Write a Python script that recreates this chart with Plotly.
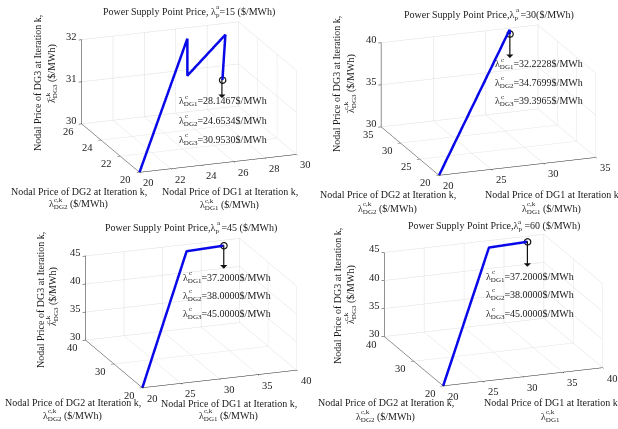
import plotly.graph_objects as go

W, H = 618, 429
FONT = "Liberation Serif"

# panel data: iteration paths
p1_dg1 = [20, 26.0, 26.0, 28.4, 28.1467]
p1_dg2 = [20, 24.8, 24.8, 24.76, 24.6534]
p1_dg3 = [30, 32.0, 31.12, 32.0, 30.953]
p2_dg1 = [20, 32.2, 32.2228]
p2_dg2 = [20, 34.77, 34.7699]
p2_dg3 = [30, 39.9, 39.3965]
p3_dg1 = [20, 32.2, 37.2]
p3_dg2 = [20, 37.5, 38.0]
p3_dg3 = [30, 45.0, 45.0]
p4_dg1 = [20, 32.2, 37.2]
p4_dg2 = [20, 37.5, 38.0]
p4_dg3 = [30, 45.0, 45.0]

p1_xticks = [20, 22, 24, 26, 28, 30]
p1_yticks = [20, 22, 24, 26]
p1_zticks = [30, 31, 32]
p2_xticks = [20, 25, 30, 35]
p2_yticks = [20, 25, 30, 35]
p2_zticks = [30, 35, 40]
p3_xticks = [20, 25, 30, 35, 40]
p3_yticks = [20, 30, 40]
p3_zticks = [30, 35, 40, 45]

p1_final = ["28.1467", "24.6534", "30.9530"]
p2_final = ["32.2228", "34.7699", "39.3965"]
p3_final = ["37.2000", "38.0000", "45.0000"]
p4_final = ["37.2000", "38.0000", "45.0000"]

panels = [
    dict(x=p1_dg1, y=p1_dg2, z=p1_dg3, xt=p1_xticks, yt=p1_yticks, zt=p1_zticks, final=p1_final,
         center=(188.5, 96.5), arrow=20, scale=1.76,
         title=("Power Supply Point Price, λ", "=15 ($/MWh)", 103), title_y=12, sup_dx=113,
         xt1=(162, 192), xt2=(200, 206), yt1=(11, 191), yt2=(49, 205),
         zt1=(37, 83), zt2=(53, 74), block=(179, [102, 121, 140])),
    dict(x=p2_dg1, y=p2_dg2, z=p2_dg3, xt=p2_xticks, yt=p2_yticks, zt=p2_zticks, final=p2_final,
         center=(488.5, 99.5), arrow=26, scale=1.76,
         title=("Power Supply Point Price,λ", " =30($/MWh)", 404), title_y=15, sup_dx=112,
         xt1=(485, 194), xt2=(522, 209), yt1=(320, 194), yt2=(358, 209),
         zt1=(336, 84), zt2=(351, 84), block=(495, [65, 83, 102])),
    dict(x=p3_dg1, y=p3_dg2, z=p3_dg3, xt=p3_xticks, yt=p3_yticks, zt=p3_zticks, final=p3_final,
         center=(191, 312.5), arrow=25, scale=1.73,
         title=("Power Supply Point Price,λ", " =45 ($/MWh)", 105), title_y=228, sup_dx=112,
         xt1=(161, 403), xt2=(199, 416), yt1=(5, 402), yt2=(43, 416),
         zt1=(40, 300), zt2=(53, 297), block=(183, [278, 296, 314])),
    dict(x=p4_dg1, y=p4_dg2, z=p4_dg3, xt=p3_xticks, yt=p3_yticks, zt=p3_zticks, final=p4_final,
         center=(493.5, 309.5), arrow=27, scale=1.79,
         title=("Power Supply Point Price,λ", " =60 ($/MWh)", 408), title_y=227, sup_dx=110,
         xt1=(484, 402), xt2=(541, 417), yt1=(318, 402), yt2=(356, 417),
         zt1=(337, 296), zt2=(351, 295), block=(486, [277, 295, 314])),
]

fig = go.Figure()
annots = []
DH = 190
EYE = 3.0
ZSCALE = 0.53 * 1.76


def note(text, px, py, size=10, xanchor="left", angle=0):
    if xanchor == "left":
        px -= 2
    annots.append(dict(text=text, x=px / W, y=1 - py / H, xref="paper", yref="paper", showarrow=False,
                       xanchor=xanchor, yanchor="middle", textangle=angle,
                       font=dict(family=FONT, size=size, color="#1a1a1a")))


def tick_label(text, x, y, z, xshift, yshift):
    return dict(x=x, y=y, z=z, text=str(text), showarrow=False, xanchor="center", yanchor="middle",
                xshift=xshift, yshift=yshift, font=dict(family=FONT, size=10.5, color="#222222"))


def ax(t, pad=0.0):
    return dict(range=[t[0], t[-1] + pad], tickvals=t, title=dict(text=""), showticklabels=False,
                showbackground=False, gridcolor="#dedede", gridwidth=1, zeroline=False,
                showline=True, linecolor="#222222", linewidth=1, ticks="inside", ticklen=3,
                tickcolor="#222222", showspikes=False)


for i, p in enumerate(panels):
    name = "scene" if i == 0 else f"scene{i + 1}"
    fig.add_trace(go.Scatter3d(x=p["x"], y=p["y"], z=p["z"], mode="lines", scene=name,
                               line=dict(color="#0808e8", width=5), hoverinfo="skip", showlegend=False))
    fig.add_trace(go.Scatter3d(x=p["x"][-1:], y=p["y"][-1:], z=p["z"][-1:], mode="markers", scene=name,
                               marker=dict(size=4, symbol="circle-open", color="#111111", line=dict(color="#111111", width=1)),
                               hoverinfo="skip", showlegend=False))
    cx, cy = p["center"]
    half = min(cx, W - cx, 150)
    xt, yt, zt = p["xt"], p["yt"], p["zt"]
    scene_notes = [dict(x=p["x"][-1], y=p["y"][-1], z=p["z"][-1], text="", showarrow=True, arrowside="start",
                        arrowhead=2, arrowsize=1.3, arrowwidth=1.2, arrowcolor="#111111",
                        ax=0, ay=p["arrow"])]
    scene_notes += [tick_label(v, v, yt[0], zt[0], 10, -11) for v in xt]
    scene_notes += [tick_label(v, xt[0], v, zt[0], -13, -8) for v in yt]
    scene_notes += [tick_label(v, xt[0], yt[-1], v, -10, 3) for v in zt]
    fig.update_layout(**{name: dict(
        domain=dict(x=[(cx - half) / W, (cx + half) / W],
                    y=[1 - (cy + DH / 2) / H, 1 - (cy - DH / 2) / H]),
        xaxis=ax(xt), yaxis=ax(yt), zaxis=ax(zt, pad=0.02 * (zt[-1] - zt[0]) / 10),
        aspectmode="manual", aspectratio=dict(x=p["scale"], y=p["scale"], z=ZSCALE),
        camera=dict(projection=dict(type="orthographic"), up=dict(x=0, y=0, z=1),
                    center=dict(x=0, y=0, z=0),
                    eye=dict(x=-0.329 * EYE, y=-0.892 * EYE, z=0.309 * EYE)),
        annotations=scene_notes,
    )})
    # title
    t1, t2, tx = p["title"]
    note(f"{t1}<sub>p</sub>{t2}", tx, p["title_y"])
    note("a", tx + p["sup_dx"], p["title_y"] - 5, size=7)
    # axis titles
    note("Nodal Price of DG1 at Iteration k,", *p["xt1"])
    note("Nodal Price of DG2 at Iteration k,", *p["yt1"])
    note("Nodal Price of DG3 at Iteration k,", *p["zt1"], angle=-90, xanchor="center")
    tail = "" if i == 3 else " ($/MWh)"
    note(f"λ<sub>DG1</sub>{tail}", *p["xt2"])
    note("c,k", p["xt2"][0] + 5, p["xt2"][1] - 5, size=7)
    note("λ<sub>DG2</sub> ($/MWh)", *p["yt2"])
    note("c,k", p["yt2"][0] + 5, p["yt2"][1] - 5, size=7)
    note("λ<sub>DG3</sub> ($/MWh)", *p["zt2"], angle=-90, xanchor="center")
    note("c,k", p["zt2"][0] - 5, p["zt2"][1] + 22, size=7, angle=-90, xanchor="center")
    # value block
    bx, bys = p["block"]
    for k, (val, by) in enumerate(zip(p["final"], bys)):
        note(f"λ<sub>DG{k + 1}</sub>={val}$/MWh", bx, by)
        note("c", bx + 6, by - 5, size=7)

fig.update_layout(width=W, height=H, margin=dict(l=0, r=0, t=0, b=0), paper_bgcolor="white",
                  annotations=annots, showlegend=False)
fig.write_html("out.html", config=dict(displayModeBar=False),
               post_script="document.body.style.margin='0';document.documentElement.style.overflow='hidden';")
